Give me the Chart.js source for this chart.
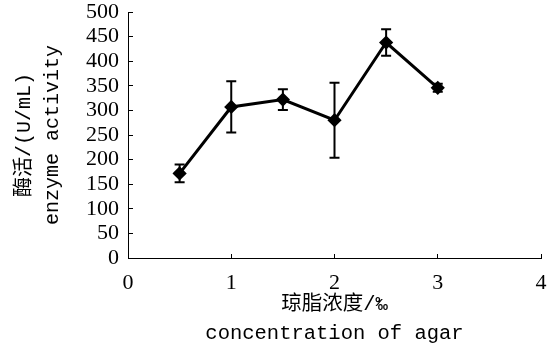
<!DOCTYPE html>
<html lang="zh">
  <head>
    <meta charset="utf-8">
    <title>酶活 vs 琼脂浓度</title>
    <script src="https://cdn.jsdelivr.net/npm/chart.js"></script>
    <style>
      html, body { margin: 0; padding: 0; background: #fff; }
      #wrap { width: 549px; height: 349px; }
    </style>
  </head>
  <body>
    <div id="wrap"><canvas id="chart"></canvas></div>
    <script>
      // data
      var concentration = [0.5, 1, 1.5, 2, 2.5, 3];
      var activity = [172, 307, 322, 280, 438, 346];
      var errorSize = [18, 52, 21, 76, 27, 8];

      var xTitle = ['琼脂浓度/‰', 'concentration of agar'];
      var yTitle = ['酶活/(U/mL)', 'enzyme activity'];

      var points = concentration.map(function (c, i) { return { x: c, y: activity[i] }; });

      // error bars drawn through the chart scales
      var errorBars = {
        id: 'errorBars',
        afterDatasetsDraw: function (chart) {
          var ctx = chart.ctx;
          var xs = chart.scales.x, ys = chart.scales.y;
          ctx.save();
          ctx.strokeStyle = '#000';
          ctx.lineWidth = 2;
          for (var i = 0; i < concentration.length; i++) {
            var px = xs.getPixelForValue(concentration[i]);
            var top = ys.getPixelForValue(activity[i] + errorSize[i]);
            var bot = ys.getPixelForValue(activity[i] - errorSize[i]);
            ctx.beginPath();
            ctx.moveTo(px, top); ctx.lineTo(px, bot);
            ctx.moveTo(px - 5, top); ctx.lineTo(px + 5, top);
            ctx.moveTo(px - 5, bot); ctx.lineTo(px + 5, bot);
            ctx.stroke();
          }
          ctx.restore();
        }
      };

      var tickFont = { family: "'Liberation Serif', serif", size: 22 };

      // keep the plot box fixed: no extra room for edge labels
      function noEdgePad(s) {
        s.paddingTop = 0; s.paddingBottom = 0;
        s.paddingLeft = 0; s.paddingRight = 0;
      }

      new Chart(document.getElementById('chart'), {
        type: 'scatter',
        data: {
          datasets: [{
            data: points,
            showLine: true,
            borderColor: '#000',
            backgroundColor: '#000',
            borderWidth: 3,
            pointStyle: 'rectRot',
            pointRadius: 5,
            tension: 0
          }]
        },
        plugins: [errorBars],
        options: {
          responsive: true,
          maintainAspectRatio: false,
          animation: false,
          layout: { padding: { top: 12, right: 8, left: 0, bottom: 0 } },
          plugins: { legend: { display: false }, tooltip: { enabled: false } },
          scales: {
            x: {
              type: 'linear',
              min: 0, max: 4,
              ticks: { stepSize: 1, color: '#000', font: tickFont, padding: 16, maxRotation: 0, autoSkip: false },
              grid: { drawOnChartArea: false, tickLength: -4, color: '#000', lineWidth: 1 },
              border: { color: '#000', width: 1 },
              title: {
                display: true, text: xTitle, color: '#000',
                font: { family: "'Liberation Mono', 'Noto Sans CJK SC', monospace", size: 20.5, lineHeight: 1.46 },
                padding: 0
              },
              afterFit: function (s) { s.height = 91; noEdgePad(s); }
            },
            y: {
              min: 0, max: 500,
              ticks: { stepSize: 50, color: '#000', font: tickFont, padding: 14, autoSkip: false },
              grid: { drawOnChartArea: false, tickLength: -5, color: '#000', lineWidth: 1 },
              border: { color: '#000', width: 1 },
              title: {
                display: true, text: yTitle, color: '#000',
                font: { family: "'Liberation Mono', 'Noto Sans CJK SC', monospace", size: 20, lineHeight: 1.4 },
                padding: { top: 11, bottom: 0 }
              },
              afterFit: function (s) { s.width = 128; noEdgePad(s); }
            }
          }
        }
      });
    </script>
  </body>
</html>
